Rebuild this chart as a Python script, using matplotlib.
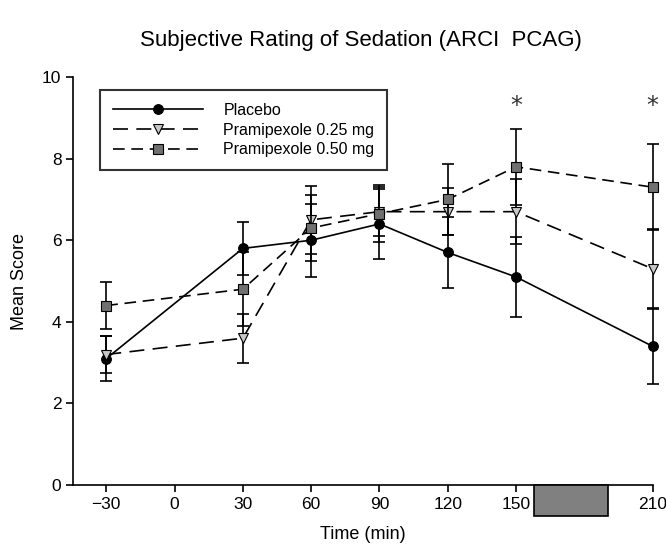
import matplotlib
matplotlib.use("Agg")
import matplotlib.pyplot as plt
from matplotlib.patches import Rectangle
from matplotlib.lines import Line2D

plt.rcParams['font.family'] = ['Liberation Sans', 'DejaVu Sans']

time = [-30, 30, 60, 90, 120, 150, 210]
placebo = [3.1, 5.8, 6.0, 6.4, 5.7, 5.1, 3.4]
placebo_err = [0.55, 0.65, 0.9, 0.85, 0.88, 0.97, 0.92]
pram025 = [3.2, 3.6, 6.5, 6.7, 6.7, 6.7, 5.3]
pram025_err = [0.45, 0.6, 0.83, 0.6, 0.57, 0.8, 0.97]
pram050 = [4.4, 4.8, 6.3, 6.65, 7.0, 7.8, 7.3]
pram050_err = [0.57, 0.9, 0.8, 0.7, 0.87, 0.93, 1.05]
star_times = [150, 210]
star_level = 9.3
xticks = [-30, 0, 30, 60, 90, 120, 150, 210]
labels = ["Placebo", "Pramipexole 0.25 mg", "Pramipexole 0.50 mg"]

fig = plt.figure(figsize=(6.66, 5.5), dpi=100)
ax = fig.add_axes([0.110, 0.118, 0.870, 0.742])

styles = [
    dict(marker='o', ls='-', mfc='black'),
    dict(marker='v', ls=(0, (9, 5)), mfc='#c8c8c8'),
    dict(marker='s', ls=(0, (7, 4)), mfc='#707070'),
]
series = [(placebo, placebo_err), (pram025, pram025_err), (pram050, pram050_err)]
handles = []
for i, ((y, e), st) in enumerate(zip(series, styles)):
    cont = ax.errorbar(time, y, yerr=e, fmt='none', capsize=4.5, elinewidth=1.2, capthick=1.2,
                       ecolor='black', zorder=3 + i)
    for c in cont.lines[1]:
        c.set_clip_on(False)
    for c in cont.lines[2]:
        c.set_clip_on(False)
    ax.plot(time, y, color='black', lw=1.2, linestyle=st['ls'], marker=st['marker'],
            markersize=7, markerfacecolor=st['mfc'],
            markeredgecolor='black', markeredgewidth=0.8, zorder=3 + i, clip_on=False)
    handles.append(Line2D([], [], color='black', lw=1.2, linestyle=st['ls'], marker=st['marker'],
                          markersize=7, markerfacecolor=st['mfc'], markeredgecolor='black',
                          markeredgewidth=0.8))

for t in star_times:
    ax.text(t, star_level, '*', ha='center', va='center', fontsize=17, family='DejaVu Sans', color='#333333')

ax.add_patch(Rectangle((158, -0.76), 32.5, 0.76, facecolor='#808080', edgecolor='black', lw=1.2,
                       clip_on=False, zorder=6))

ax.set_xlim(-44.5, 210)
ax.set_ylim(0, 10)
ax.set_xticks(xticks)
ax.set_xticklabels(['\u221230' if v == -30 else str(v) for v in xticks])
ax.set_yticks([0, 2, 4, 6, 8, 10])
ax.spines['top'].set_visible(False)
ax.spines['right'].set_visible(False)
for s in ['left', 'bottom']:
    ax.spines[s].set_linewidth(1.2)
ax.tick_params(direction='out', length=5, width=1.2, labelsize=12.5)
ax.set_xlabel('Time (min)', fontsize=13, labelpad=10)
ax.set_ylabel('Mean Score', fontsize=13, labelpad=10)
fig.suptitle('Subjective Rating of Sedation (ARCI  PCAG)', fontsize=16, x=0.542, y=0.945)

leg = ax.legend(handles, labels, loc='upper left', bbox_to_anchor=(0.047, 0.968), borderaxespad=0,
                fontsize=11.5, handlelength=5.6, frameon=True, fancybox=False, edgecolor='black',
                borderpad=0.8, labelspacing=0.3, handletextpad=1.3)
leg.get_frame().set_linewidth(1.5)

fig.savefig('out.png', dpi=100)
